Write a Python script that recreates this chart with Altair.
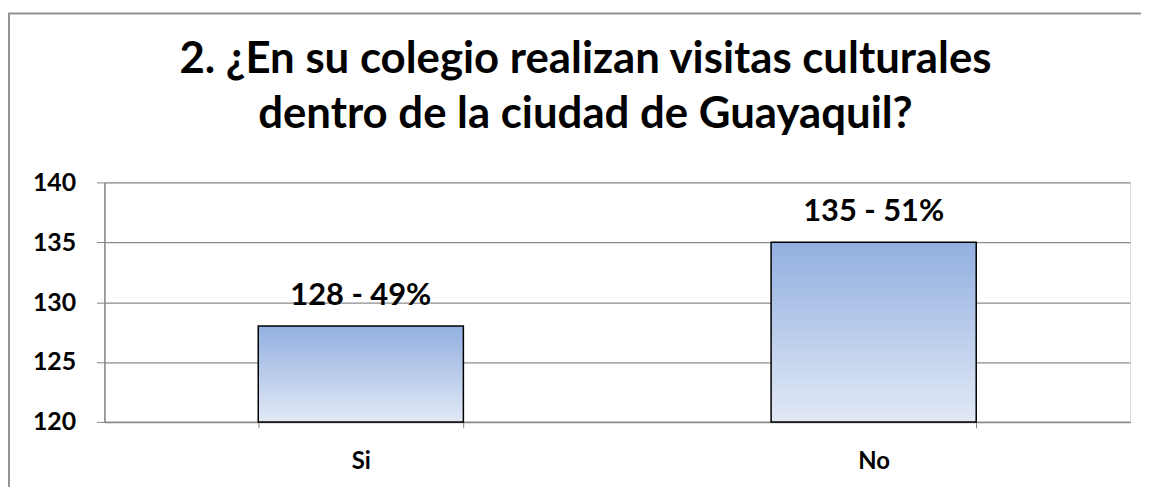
import altair as alt
import pandas as pd

categories = ["Si", "No"]
counts = [128, 135]
percents = ["49%", "51%"]
title_lines = ["2. ¿En su colegio realizan visitas culturales", "dentro de la ciudad de Guayaquil?"]
y_ticks = [120, 125, 130, 135, 140]
y_min, y_max = 120, 140

df = pd.DataFrame({
    "cat": categories,
    "count": counts,
    "label": [f"{c} - {p}" for c, p in zip(counts, percents)],
})

# Vertical gradient fill, drawn as nested bar layers (tallest first, lighter on top)
N = 40
rows = []
for cat, cnt in zip(categories, counts):
    for i in range(N):
        frac = 1 - i / N
        rows.append({"cat": cat, "base": y_min, "level": y_min + (cnt - y_min) * frac,
                     "shade": frac - 0.5 / N, "ord": i})
grad_df = pd.DataFrame(rows)

FONT = "Lato"
W, H = 1032, 241
LEFT = 97

x_scale = alt.Scale(domain=categories, paddingInner=0.6, paddingOuter=0.3)
y_scale = alt.Scale(domain=[y_min, y_max], nice=False, zero=False)

x_axis = alt.Axis(labelAngle=0, labelFont=FONT, labelFontSize=24, labelFontWeight="bold",
                  labelColor="black", labelPadding=22, tickBand="extent", tickSize=6,
                  tickColor="#868686", domainColor="#868686", domainWidth=1.5, grid=False)
y_axis = alt.Axis(values=y_ticks, labelFont=FONT, labelFontSize=25, labelFontWeight="bold",
                  labelColor="black", labelPadding=21, tickSize=8, tickColor="#868686",
                  domainColor="#868686", domainWidth=1.5, gridColor="#8c8c8c", gridWidth=1.2)

grad_bars = alt.Chart(grad_df).mark_bar(strokeWidth=0).encode(
    x=alt.X("cat:N", sort=categories, scale=x_scale, title=None, axis=x_axis),
    y=alt.Y("level:Q", scale=y_scale, title=None, axis=y_axis),
    y2="base:Q",
    color=alt.Color("shade:Q", scale=alt.Scale(domain=[0, 1], range=["#e2e9f6", "#92b0e0"]), legend=None),
    order=alt.Order("ord:Q"),
)

outline = alt.Chart(df).mark_bar(fillOpacity=0, stroke="black", strokeWidth=1.5).encode(
    x=alt.X("cat:N", sort=categories, scale=x_scale, title=None, axis=x_axis),
    y=alt.Y("count:Q", scale=y_scale, title=None, axis=y_axis),
    y2=alt.datum(y_min),
)

texts = alt.Chart(df).mark_text(font=FONT, fontSize=31, fontWeight="bold", color="black",
                                baseline="alphabetic", dy=-21).encode(
    x=alt.X("cat:N", sort=categories, scale=x_scale), y=alt.Y("count:Q", scale=y_scale), text="label:N"
)

border = alt.Chart(df).mark_rect(fill=None, stroke="#8c8c8c", strokeWidth=1.5, clip=False).encode(
    x=alt.value(-(LEFT - 1)), x2=alt.value(W + 60), y=alt.value(-170), y2=alt.value(H + 100)
)

chart = alt.layer(border, grad_bars, outline, texts).properties(
    width=W, height=H,
    title=alt.TitleParams(text=title_lines, font=FONT, fontSize=44, fontWeight="bold", color="black",
                          anchor="middle", lineHeight=55, offset=-125, dx=-32),
    autosize=alt.AutoSizeParams(type="none"),
    padding={"left": LEFT, "top": 174, "right": 11, "bottom": 64},
).configure_view(stroke=None).configure(background="white")

chart.save("out.html", embed_options={"renderer": "svg", "actions": False})
